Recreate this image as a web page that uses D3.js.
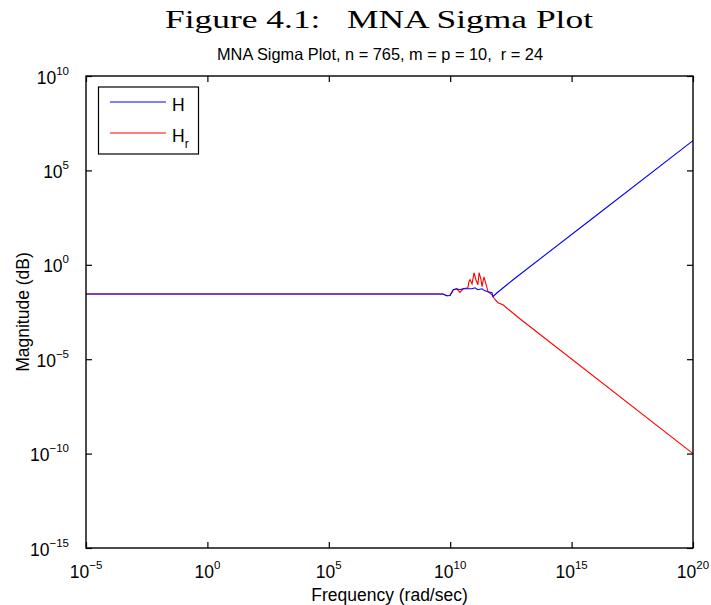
<!DOCTYPE html>
<html>
<head>
<meta charset="utf-8">
<script src="https://cdn.jsdelivr.net/npm/d3@7"></script>
<style>
  html, body { margin: 0; padding: 0; background: #fff; }
  svg { display: block; }
  text { font-family: "Liberation Sans", Arial, sans-serif; fill: #000; }
</style>
</head>
<body>
<svg id="chart" width="711" height="605"></svg>
<script>
// Sigma plot data: frequency exponents (log10 rad/sec) and magnitude exponents (log10)
const freqExpH = [-5, 9.70, 9.86, 9.99, 10.13, 10.27, 10.40, 10.53, 10.69, 10.90, 11.02, 11.14, 11.31, 11.43, 11.56, 11.72, 11.76, 11.93, 12.59, 16.0, 20.0];
const magExpH  = [-1.55, -1.55, -1.64, -1.63, -1.32, -1.27, -1.32, -1.27, -1.27, -1.27, -1.22, -1.32, -1.27, -1.38, -1.43, -1.48, -1.69, -1.48, -0.79, 2.60, 6.58];

const freqExpHr = [-5, 9.70, 9.86, 9.99, 10.13, 10.27, 10.40, 10.53, 10.73, 10.77, 10.82, 10.90, 10.98, 11.06, 11.14, 11.19, 11.27, 11.31, 11.39, 11.47, 11.56, 11.72, 11.85, 11.97, 12.17, 12.87, 20.0];
const magExpHr  = [-1.55, -1.55, -1.64, -1.63, -1.32, -1.27, -1.46, -1.27, -1.22, -0.90, -0.79, -1.01, -0.42, -0.79, -1.06, -0.42, -0.79, -1.16, -0.64, -1.01, -1.43, -1.59, -1.85, -2.01, -2.12, -2.86, -10.0];

const xTickExps = [-5, 0, 5, 10, 15, 20];
const yTickExps = [-15, -10, -5, 0, 5, 10];

const seriesNames = ["H", "H_r"];
const seriesColors = ["#0000ff", "#ff0000"];

const svg = d3.select("#chart");
const L = 86, R = 693, T = 76, B = 548;

const x = d3.scaleLog().domain([1e-5, 1e20]).range([L, R]);
const y = d3.scaleLog().domain([1e-15, 1e10]).range([B, T]);

const toPts = (fe, me) => fe.map((f, i) => [Math.pow(10, f), Math.pow(10, me[i])]);
const dataH = toPts(freqExpH, magExpH);
const dataHr = toPts(freqExpHr, magExpHr);

// Figure caption and axes title
svg.append("text")
  .attr("x", 379).attr("y", 28)
  .attr("text-anchor", "middle")
  .style("font-family", "'Liberation Serif', 'DejaVu Serif', serif")
  .style("font-size", "26px")
  .attr("textLength", 428).attr("lengthAdjust", "spacingAndGlyphs")
  .text("Figure 4.1:\u00a0\u00a0\u00a0MNA Sigma Plot");

svg.append("text")
  .attr("x", 380).attr("y", 60)
  .attr("text-anchor", "middle")
  .style("font-size", "16.5px")
  .attr("textLength", 326).attr("lengthAdjust", "spacingAndGlyphs")
  .text("MNA Sigma Plot, n = 765, m = p = 10,\u00a0\u00a0r = 24");

// Lines
const line = d3.line().x(d => x(d[0])).y(d => y(d[1]));
const plot = svg.append("g");
plot.append("path").datum(dataHr)
  .attr("d", line).attr("fill", "none")
  .attr("stroke", seriesColors[1]).attr("stroke-width", 1.1);
plot.append("path").datum(dataH)
  .attr("d", line).attr("fill", "none")
  .attr("stroke", seriesColors[0]).attr("stroke-width", 1.1);

// Axes with inward ticks on all four sides
const tickLen = 6;
const xTicks = xTickExps.map(e => Math.pow(10, e));
const yTicks = yTickExps.map(e => Math.pow(10, e));

const styleAxis = g => {
  g.select(".domain").remove();
  g.selectAll(".tick line").attr("stroke", "#000").attr("stroke-width", 1.2);
  g.selectAll(".tick text").remove();
};

svg.append("g").attr("transform", `translate(0,${B})`)
  .call(d3.axisBottom(x).tickValues(xTicks).tickSizeInner(-tickLen).tickSizeOuter(0))
  .call(styleAxis);
svg.append("g").attr("transform", `translate(0,${T})`)
  .call(d3.axisTop(x).tickValues(xTicks).tickSizeInner(-tickLen).tickSizeOuter(0))
  .call(styleAxis);
svg.append("g").attr("transform", `translate(${L},0)`)
  .call(d3.axisLeft(y).tickValues(yTicks).tickSizeInner(-tickLen).tickSizeOuter(0))
  .call(styleAxis);
svg.append("g").attr("transform", `translate(${R},0)`)
  .call(d3.axisRight(y).tickValues(yTicks).tickSizeInner(-tickLen).tickSizeOuter(0))
  .call(styleAxis);

// Frame
svg.append("rect")
  .attr("x", L).attr("y", T).attr("width", R - L).attr("height", B - T)
  .attr("fill", "none").attr("stroke", "#000").attr("stroke-width", 1.4);

// Tick labels: 10 with superscripted exponent
const supLabel = (sel, exp) => {
  sel.append("tspan").text("10");
  sel.append("tspan").attr("dy", -9).style("font-size", "11.5px")
    .text(exp < 0 ? "\u2212" + Math.abs(exp) : String(exp));
};

xTickExps.forEach(e => {
  const t = svg.append("text")
    .attr("x", x(Math.pow(10, e)))
    .attr("y", 578)
    .attr("text-anchor", "middle")
    .style("font-size", "17.5px");
  supLabel(t, e);
});

yTickExps.forEach(e => {
  const t = svg.append("text")
    .attr("x", 69)
    .attr("y", y(Math.pow(10, e)) + 7.5)
    .attr("text-anchor", "end")
    .style("font-size", "17.5px");
  supLabel(t, e);
});

// Axis titles
svg.append("text")
  .attr("x", 389.5).attr("y", 601)
  .attr("text-anchor", "middle")
  .style("font-size", "17.5px")
  .text("Frequency (rad/sec)");

svg.append("text")
  .attr("transform", `translate(29,${(T + B) / 2}) rotate(-90)`)
  .attr("text-anchor", "middle")
  .style("font-size", "17.5px")
  .text("Magnitude (dB)");

// Legend
const lg = svg.append("g");
lg.append("rect")
  .attr("x", 98.5).attr("y", 87).attr("width", 100).attr("height", 67)
  .attr("fill", "#fff").attr("stroke", "#000").attr("stroke-width", 1.2);
const legendRows = [102, 133];
seriesNames.forEach((name, i) => {
  lg.append("line")
    .attr("x1", 110).attr("x2", 166)
    .attr("y1", legendRows[i]).attr("y2", legendRows[i])
    .attr("stroke", seriesColors[i]).attr("stroke-width", 1.1);
  const t = lg.append("text")
    .attr("x", 172).attr("y", legendRows[i] + 8.5)
    .style("font-size", "17.5px");
  const parts = name.split("_");
  t.append("tspan").text(parts[0]);
  if (parts[1]) {
    t.append("tspan").attr("dy", 6).style("font-size", "12px").text(parts[1]);
  }
});
</script>
</body>
</html>
